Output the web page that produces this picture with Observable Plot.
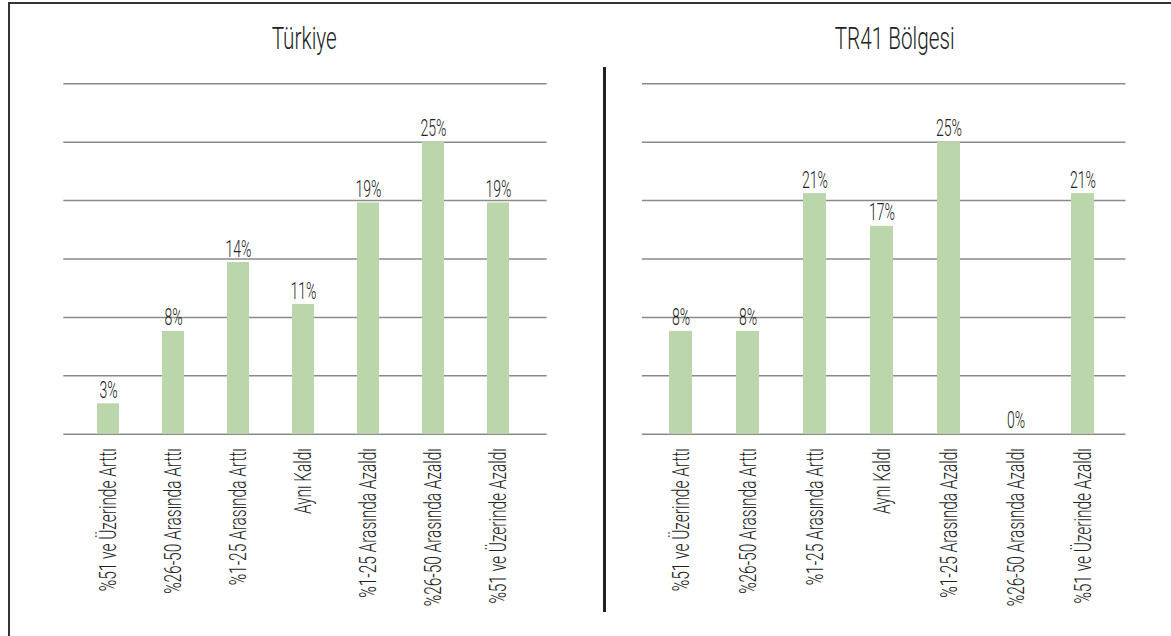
<!DOCTYPE html>
<html><head><meta charset="utf-8">
<script src="https://cdn.jsdelivr.net/npm/d3@7"></script>
<script src="https://cdn.jsdelivr.net/npm/@observablehq/plot@0.6"></script>
<style>
body{margin:0;background:#fff;}
#wrap{position:relative;width:1171px;height:636px;overflow:hidden;font-family:Roboto,"Liberation Sans",Arial,sans-serif;font-weight:300;color:#222;background:#fff;}
#frame{position:absolute;left:8px;top:2px;width:1200px;height:700px;border-left:2.7px solid #333;border-top:2.5px solid #333;}
.title{position:absolute;top:23px;width:300px;text-align:center;font-size:32px;line-height:30px;white-space:nowrap;color:#222;}
.title span{display:inline-block;transform-origin:50% 50%;}
#divider{position:absolute;left:603.3px;top:67px;width:2.7px;height:545px;background:#222;}
.panel{position:absolute;top:60px;}
.panel svg{overflow:visible;}
</style></head>
<body>
<div id="wrap">
  <div id="frame"></div>
  <div class="title" id="t1" style="left:154px;"><span></span></div>
  <div class="title" id="t2" style="left:745px;"><span></span></div>
  <div id="divider"></div>
  <div class="panel" id="p1" style="left:0px;"></div>
  <div class="panel" id="p2" style="left:590px;"></div>
</div>
<script>
const categories = ["%51 ve Üzerinde Arttı","%26-50 Arasında Arttı","%1-25 Arasında Arttı","Aynı Kaldı","%1-25 Arasında Azaldı","%26-50 Arasında Azaldı","%51 ve Üzerinde Azaldı"];
const panelTitles = ["Türkiye","TR41 Bölgesi"];
const turkiyeValues = [2.6, 8.8, 14.7, 11.1, 19.8, 25.0, 19.8];
const turkiyeLabels = ["3%","8%","14%","11%","19%","25%","19%"];
const tr41Values = [8.8, 8.8, 20.6, 17.8, 25.0, 0, 20.6];
const tr41Labels = ["8%","8%","21%","17%","25%","0%","21%"];
const gridTicks = [0,5,10,15,20,25,30];

const FONT = 'Roboto,"Liberation Sans",Arial,sans-serif';

function panel(values, labels, o) {
  const data = categories.map((c,i)=>({cat:c, v:values[i], label:labels[i]}));
  return Plot.plot({
    width: o.width, height: 576,
    marginTop: 23.3, marginBottom: 202.3, marginLeft: o.ml, marginRight: o.mr,
    style: {fontFamily: FONT, fontWeight: 300, color: "#222", background: "transparent", overflow: "visible"},
    x: {domain: categories, paddingInner: o.pad, paddingOuter: o.pad/2, insetLeft: o.il, insetRight: o.ir, label: null},
    y: {domain: [0,30], axis: null},
    marks: [
      Plot.ruleY(gridTicks, {stroke: "#8a8a8a", strokeWidth: 1.5}),
      Plot.barY(data, {x: "cat", y: "v", fill: "#bad6aa"}),
      Plot.text(data, {x: "cat", y: "v", text: "label", dy: -6, lineAnchor: "bottom", fontSize: 24, fill: "#222"}),
      Plot.axisX({tickRotate: -90, tickSize: 0, tickPadding: 14, fontSize: 24, label: null, fill: "#222"})
    ]
  });
}

// horizontally condense texts so that a sample string reaches the width it has in the reference
function squeezeTo(roots, sel, sampleText, sampleWidth) {
  const all = roots.flatMap(r => [...r.querySelectorAll(sel)]);
  const sample = all.find(t => t.textContent === sampleText);
  const k = sampleWidth / sample.getComputedTextLength();
  all.forEach(t => {
    const L = t.getComputedTextLength();
    if (L > 0) { t.setAttribute("textLength", L * k); t.setAttribute("lengthAdjust", "spacingAndGlyphs"); }
  });
}

const spans = [document.querySelector("#t1 span"), document.querySelector("#t2 span")];
spans.forEach((s, i) => s.textContent = panelTitles[i]);

const p1 = panel(turkiyeValues, turkiyeLabels, {width: 590, ml: 63.3, mr: 43.3, pad: 0.655, il: 9.1, ir: 13.3});
const p2 = panel(tr41Values, tr41Labels, {width: 581, ml: 51.9, mr: 45.5, pad: 0.664, il: 3.8, ir: 8.4});
document.getElementById("p1").appendChild(p1);
document.getElementById("p2").appendChild(p2);
squeezeTo([p1, p2], 'g[aria-label="text"] text', "19%", 26);
squeezeTo([p1, p2], 'g[aria-label="x-axis tick label"] text', categories[0], 143);
const kt = 65 / spans[0].getBoundingClientRect().width;
spans.forEach(s => s.style.transform = `scaleX(${kt})`);
</script>
</body></html>
